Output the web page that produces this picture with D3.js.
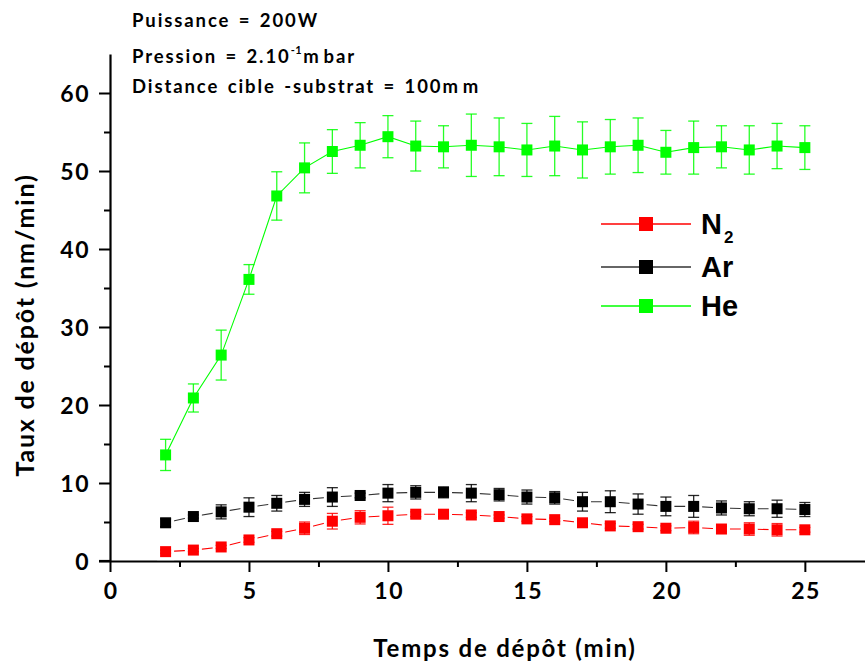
<!DOCTYPE html>
<html><head><meta charset="utf-8">
<script src="https://cdn.jsdelivr.net/npm/d3@7"></script>
<style>body{margin:0;background:#fff}svg{display:block}</style>
</head><body>
<svg id="c" width="865" height="662"></svg>
<script>
const times = [2,3,4,5,6,7,8,9,10,11,12,13,14,15,16,17,18,19,20,21,22,23,24,25];
const n2Values = [1.2,1.4,1.8,2.7,3.5,4.2,5.1,5.6,5.8,6.0,6.0,5.9,5.7,5.4,5.3,4.9,4.5,4.4,4.2,4.3,4.1,4.1,4.0,4.0];
const n2Errors = [0.2,0.2,0.2,0.3,0.3,0.8,1.0,0.85,1.1,0.3,0.3,0.3,0.2,0.3,0.2,0.3,0.3,0.3,0.3,0.8,0.3,0.8,0.8,0.3];
const arValues = [4.9,5.7,6.3,6.9,7.4,7.9,8.2,8.4,8.7,8.8,8.8,8.7,8.5,8.2,8.1,7.6,7.6,7.3,7.0,7.0,6.8,6.7,6.7,6.6];
const arErrors = [0.5,0.2,0.9,1.2,1.0,0.9,1.2,0.3,1.1,0.85,0.7,1.1,0.8,0.9,0.8,1.2,1.4,1.3,1.2,1.4,0.9,0.9,1.1,0.9];
const heValues = [13.6,20.9,26.4,36.1,46.8,50.4,52.5,53.3,54.4,53.2,53.1,53.3,53.1,52.7,53.2,52.7,53.1,53.3,52.4,53.0,53.1,52.7,53.2,53.0];
const heErrors = [2.0,1.8,3.2,1.9,3.1,3.2,2.8,2.9,2.7,3.2,2.7,4.0,3.7,3.4,3.8,3.6,3.5,3.5,2.8,3.4,2.7,3.1,2.9,2.8];
const xTicks = [0,5,10,15,20,25];
const yTicks = [0,10,20,30,40,50,60];
const seriesNames = ["N2","Ar","He"];
const seriesColors = ["#ff0000","#000000","#00ff00"];
const lineColors = ["#ff0000","#333333","#00ff00"];

const svg = d3.select("#c");
const x = d3.scaleLinear().domain([0,27.2]).range([110,866]);
const y = d3.scaleLinear().domain([0,65]).range([561,54]);
const FONT = "Lato, 'Open Sans', sans-serif";

// axes
const xAxis = svg.append("g").attr("transform","translate(0,561)")
  .call(d3.axisBottom(x).tickValues(d3.range(0,27.5,2.5)).tickSize(11).tickFormat(d=>xTicks.includes(d)?d:"").tickSizeOuter(0));
xAxis.selectAll(".tick line").attr("y2",d=>xTicks.includes(d)?11:6);
const yAxis = svg.append("g").attr("transform","translate(110,0)")
  .call(d3.axisLeft(y).tickValues(d3.range(0,65,5)).tickSize(11).tickFormat(d=>yTicks.includes(d)?d:"").tickSizeOuter(0));
yAxis.selectAll(".tick line").attr("x2",d=>yTicks.includes(d)?-11:-6);
[xAxis,yAxis].forEach(a=>{
  a.select(".domain").attr("stroke","#000").attr("stroke-width",2.2);
  a.selectAll(".tick line").attr("stroke","#000").attr("stroke-width",2);
  a.selectAll(".tick text").attr("fill","#000").attr("font-family",FONT).attr("font-weight","bold").attr("font-size",23).attr("letter-spacing",1.5);
});
xAxis.selectAll(".tick text").attr("dy",0).attr("y",38).attr("dx",0.75);
yAxis.selectAll(".tick text").attr("x",-20).attr("dy","0.36em");
svg.append("line").attr("x1",99).attr("x2",110).attr("y1",561).attr("y2",561).attr("stroke","#000").attr("stroke-width",2.2);

// axis titles
svg.append("text").attr("transform","translate(34,325) rotate(-90)").attr("text-anchor","middle")
  .attr("font-family",FONT).attr("font-weight","bold").attr("font-size",25).attr("letter-spacing",1.8)
  .text("Taux de dépôt (nm/min)");
svg.append("text").attr("x",505).attr("y",657).attr("text-anchor","middle")
  .attr("font-family",FONT).attr("font-weight","bold").attr("font-size",24).attr("letter-spacing",1.8)
  .text("Temps de dépôt (min)");

// annotations
const ann = svg.append("g").attr("font-family",FONT).attr("font-weight","bold").attr("font-size",18.5)
  .attr("letter-spacing",1.9).attr("word-spacing",2).attr("fill","#000");
ann.append("text").attr("x",132).attr("y",27).text("Puissance = 200W");
const t2 = ann.append("text").attr("x",132).attr("y",63);
t2.append("tspan").text("Pression = 2.10");
t2.append("tspan").attr("font-size",11).attr("letter-spacing",0.5).attr("dy",-9).text("-1");
t2.append("tspan").attr("dy",9).attr("dx",1).text("m");
t2.append("tspan").attr("dx",3).text("bar");
const t3 = ann.append("text").attr("x",132).attr("y",93);
t3.append("tspan").text("Distance cible -substrat = 100m");
t3.append("tspan").attr("dx",3).text("m");

// data series
const allVals = [n2Values, arValues, heValues];
const allErrs = [n2Errors, arErrors, heErrors];
const line = d3.line().x(d=>x(d[0])).y(d=>y(d[1]));
const M = 11, CAP = 11;
[2,1,0].forEach(i=>{
  const pts = times.map((t,k)=>[t, allVals[i][k], allErrs[i][k]]);
  const g = svg.append("g");
  g.append("path").datum(pts).attr("d",line).attr("fill","none").attr("stroke",lineColors[i]).attr("stroke-width",1.1);
  if (i<2) {
    g.selectAll("rect.gap").data(pts).join("rect").attr("class","gap")
      .attr("x",d=>x(d[0])-M/2-3).attr("y",d=>y(d[1])-M/2-3).attr("width",M+6).attr("height",M+6).attr("fill","#fff");
  }
  const eb = g.selectAll("g.eb").data(pts).join("g").attr("stroke",seriesColors[i]).attr("stroke-width",1.3).attr("stroke-opacity",0.85);
  eb.append("line").attr("x1",d=>x(d[0])).attr("x2",d=>x(d[0])).attr("y1",d=>y(d[1]+d[2])).attr("y2",d=>y(d[1]-d[2]));
  eb.append("line").attr("x1",d=>x(d[0])-CAP/2).attr("x2",d=>x(d[0])+CAP/2).attr("y1",d=>y(d[1]+d[2])).attr("y2",d=>y(d[1]+d[2]));
  eb.append("line").attr("x1",d=>x(d[0])-CAP/2).attr("x2",d=>x(d[0])+CAP/2).attr("y1",d=>y(d[1]-d[2])).attr("y2",d=>y(d[1]-d[2]));
  g.selectAll("rect.m").data(pts).join("rect").attr("class","m")
    .attr("x",d=>x(d[0])-M/2).attr("y",d=>y(d[1])-M/2).attr("width",M).attr("height",M).attr("fill",seriesColors[i]);
});

// legend
const lg = svg.append("g");
const legY = [224,267,306];
seriesNames.forEach((n,i)=>{
  lg.append("line").attr("x1",601).attr("x2",691).attr("y1",legY[i]).attr("y2",legY[i]).attr("stroke",lineColors[i]).attr("stroke-width",1.3);
  lg.append("rect").attr("x",646-7).attr("y",legY[i]-7).attr("width",14).attr("height",14).attr("fill",seriesColors[i]);
  const tx = lg.append("text").attr("x",701).attr("y",legY[i]+10).attr("font-family","'Liberation Sans', Arial, sans-serif")
    .attr("font-weight","bold").attr("font-size",29).attr("fill","#000");
  if (n==="N2") { tx.append("tspan").text("N"); tx.append("tspan").attr("font-size",17).attr("dy",9).attr("dx",2).text("2"); }
  else tx.text(n);
});
</script>
</body></html>
